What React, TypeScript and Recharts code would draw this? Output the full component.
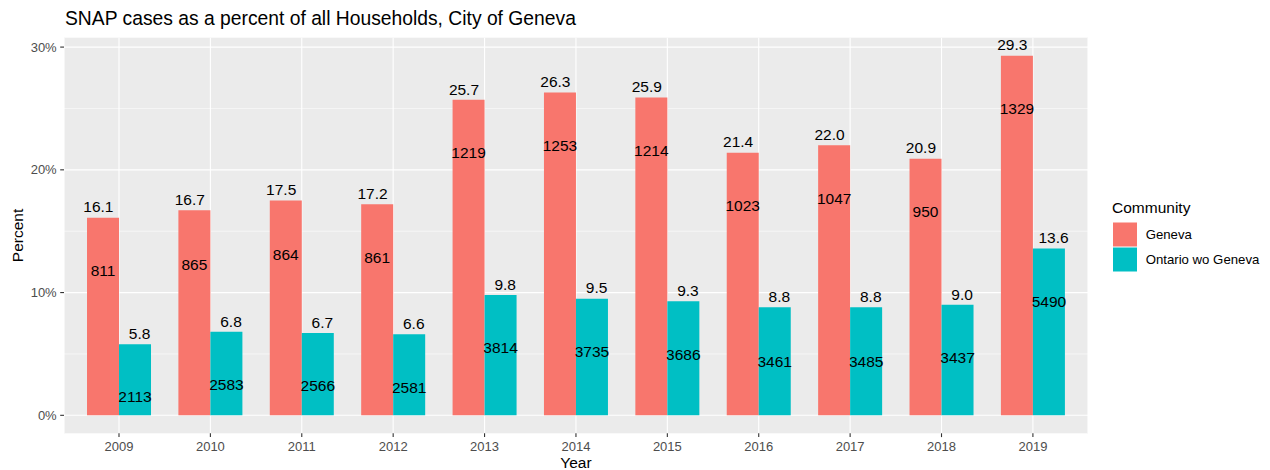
import React from 'react';
import { BarChart, Bar, XAxis, YAxis, CartesianGrid, LabelList } from 'recharts';

// values
const years = ['2009', '2010', '2011', '2012', '2013', '2014', '2015', '2016', '2017', '2018', '2019'];
const genevaPct = [16.1, 16.7, 17.5, 17.2, 25.7, 26.3, 25.9, 21.4, 22.0, 20.9, 29.3];
const ontarioPct = [5.8, 6.8, 6.7, 6.6, 9.8, 9.5, 9.3, 8.8, 8.8, 9.0, 13.6];
const genevaCount = [811, 865, 864, 861, 1219, 1253, 1214, 1023, 1047, 950, 1329];
const ontarioCount = [2113, 2583, 2566, 2581, 3814, 3735, 3686, 3461, 3485, 3437, 5490];
// the y value (in %) where each count label sits
const genevaCountAt = [11.8, 12.3, 13.1, 12.9, 21.4, 22.0, 21.6, 17.1, 17.7, 16.6, 25.0];
const ontarioCountAt = [1.5, 2.5, 2.4, 2.3, 5.5, 5.2, 5.0, 4.4, 4.4, 4.7, 9.3];
const yTicks = [0, 10, 20, 30];
const yMinor = [5, 15, 25];

const GENEVA = '#F8766D';
const ONTARIO = '#00BFC4';
const FONT = '"Liberation Sans", Arial, Helvetica, sans-serif';

const data = years.map((year, i) => ({
  year,
  geneva: genevaPct[i],
  ontario: ontarioPct[i],
}));

const box = (props: any) => {
  const vb = props.viewBox && props.viewBox.width !== undefined ? props.viewBox : props;
  return { x: Number(vb.x), y: Number(vb.y), width: Number(vb.width), height: Number(vb.height) };
};

// percent labels are dodged a bit wider than the bars (like ggplot dodge 0.9)
const pctLabel = (dx: number, values: number[]) => (props: any) => {
  const { x, y, width } = box(props);
  const i = props.index;
  return (
    <text x={x + width / 2 + dx} y={y - 5.3} textAnchor="middle" fontSize={15.5} fill="#000" fontFamily={FONT}>
      {values[i].toFixed(1)}
    </text>
  );
};

const countLabel = (counts: number[], at: number[], pct: number[]) => (props: any) => {
  const { x, y, width, height } = box(props);
  const i = props.index;
  const cy = y + height - (height * at[i]) / pct[i];
  return (
    <text x={x + width / 2} y={cy} dy="0.36em" textAnchor="middle" fontSize={15.5} fill="#000" fontFamily={FONT}>
      {counts[i]}
    </text>
  );
};

export default function App() {
  return (
    <div style={{ position: 'absolute', top: 0, left: 0, width: 1270, height: 470, background: '#fff', fontFamily: FONT }}>
      <BarChart
        width={1270}
        height={470}
        data={data}
        margin={{ top: 37.7, right: 182, bottom: 0, left: 0 }}
        barCategoryGap="15%"
        barGap={0}
      >
        <CartesianGrid
          fill="#EBEBEB"
          stroke="#FFFFFF"
          strokeWidth={1.1}
          horizontalValues={yTicks}
        />
        <CartesianGrid
          stroke="#FFFFFF"
          strokeWidth={0.55}
          vertical={false}
          horizontalValues={yMinor}
        />
        <XAxis
          dataKey="year"
          height={36.7}
          padding={{ left: 9.3, right: 9.4 }}
          axisLine={false}
          tickSize={3.8}
          tickMargin={4.3}
          tickLine={{ stroke: '#333333', strokeWidth: 1.1 }}
          tick={{ fill: '#4D4D4D', fontSize: 13 }}
          interval={0}
        />
        <YAxis
          width={64}
          type="number"
          domain={[-1.465, 30.765]}
          ticks={yTicks}
          allowDataOverflow
          axisLine={false}
          tickSize={3.8}
          tickMargin={3.5}
          tickLine={{ stroke: '#333333', strokeWidth: 1.1 }}
          tick={{ fill: '#4D4D4D', fontSize: 13 }}
          tickFormatter={(v: number) => `${v}%`}
        />
        <Bar dataKey="geneva" fill={GENEVA} isAnimationActive={false}>
          <LabelList dataKey="geneva" content={pctLabel(-4.6, genevaPct)} />
          <LabelList dataKey="geneva" content={countLabel(genevaCount, genevaCountAt, genevaPct)} />
        </Bar>
        <Bar dataKey="ontario" fill={ONTARIO} isAnimationActive={false}>
          <LabelList dataKey="ontario" content={pctLabel(4.6, ontarioPct)} />
          <LabelList dataKey="ontario" content={countLabel(ontarioCount, ontarioCountAt, ontarioPct)} />
        </Bar>
      </BarChart>

      <svg
        width={1270}
        height={470}
        style={{ position: 'absolute', top: 0, left: 0, pointerEvents: 'none' }}
        fontFamily={FONT}
      >
        <text x={65} y={25} fontSize={19.3} fill="#000">
          SNAP cases as a percent of all Households, City of Geneva
        </text>
        <text x={23.3} y={235.5} fontSize={15.5} fill="#000" textAnchor="middle" transform="rotate(-90, 23.3, 235.5)">
          Percent
        </text>
        <text x={576} y={467.5} fontSize={15.5} fill="#000" textAnchor="middle">
          Year
        </text>

        <text x={1112} y={212.7} fontSize={15.5} fill="#000">
          Community
        </text>
        <rect x={1113} y={222.5} width={24} height={24} fill={GENEVA} />
        <rect x={1113} y={247.5} width={24} height={24} fill={ONTARIO} />
        <text x={1145.7} y={239.2} fontSize={13.2} fill="#000">
          Geneva
        </text>
        <text x={1145.7} y={264.4} fontSize={13.2} fill="#000">
          Ontario wo Geneva
        </text>
      </svg>
    </div>
  );
}
